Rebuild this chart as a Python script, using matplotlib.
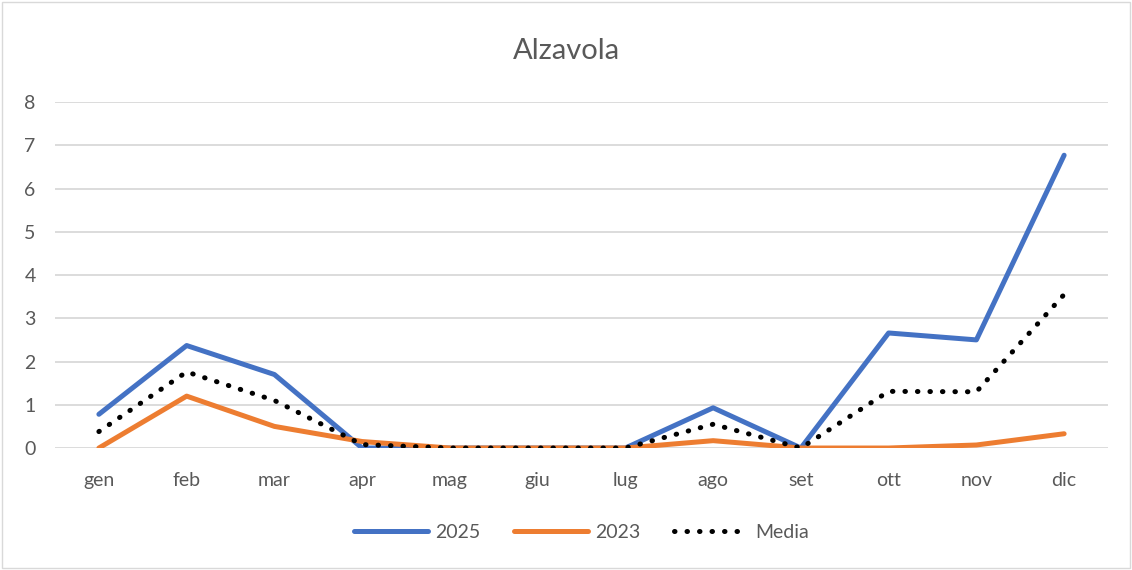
import matplotlib
matplotlib.use("Agg")
import matplotlib.pyplot as plt
from matplotlib.patches import Rectangle

months = ["gen", "feb", "mar", "apr", "mag", "giu", "lug", "ago", "set", "ott", "nov", "dic"]
y2025 = [0.78, 2.37, 1.70, 0.0, 0.0, 0.0, 0.0, 0.93, 0.0, 2.66, 2.50, 6.77]
y2023 = [0.0, 1.20, 0.50, 0.15, 0.0, 0.0, 0.0, 0.17, 0.0, 0.0, 0.07, 0.33]
media = [0.38, 1.76, 1.10, 0.08, 0.0, 0.0, 0.0, 0.55, 0.0, 1.31, 1.30, 3.55]

plt.rcParams['font.family'] = ['Lato', 'DejaVu Sans']
txt = '#595959'

fig = plt.figure(figsize=(11.32, 5.7), dpi=100)
ax = fig.add_axes([0.0486, 0.214, 0.9302, 0.607])

x = range(len(months))
ax.plot(x, y2025, color='#4472C4', lw=3.6, solid_joinstyle='round', solid_capstyle='round', label='2025')
ax.plot(x, y2023, color='#ED7D31', lw=3.6, solid_joinstyle='round', solid_capstyle='round', label='2023')
ax.plot(x, media, color='black', lw=3.6, linestyle=(0, (0.1, 2.4)), dash_capstyle='round', label='Media')

ax.set_xlim(-0.5, len(months) - 0.5)
ax.set_ylim(0, 8)
ax.set_yticks(range(0, 9))
ax.set_xticks(list(x))
ax.set_xticklabels(months)
ax.grid(axis='y', color='#d9d9d9', lw=1.3)
ax.set_axisbelow(True)
for s in ax.spines.values():
    s.set_visible(False)
ax.tick_params(length=0, labelsize=14, colors=txt)
ax.tick_params(axis='x', pad=17)
ax.tick_params(axis='y', pad=14)

fig.text(0.5, 0.91, 'Alzavola', ha='center', va='center', fontsize=21, color=txt)

leg = ax.legend(loc='center', bbox_to_anchor=(0.5, -0.245), ncol=3, frameon=False,
                fontsize=14, handlelength=3.8, handletextpad=0.4, columnspacing=1.7)
for t in leg.get_texts():
    t.set_color(txt)

fig.patches.append(Rectangle((0.002, 0.003), 0.996, 0.994, transform=fig.transFigure,
                             fill=False, edgecolor='#d9d9d9', lw=1))

fig.savefig('out.png', dpi=100)
